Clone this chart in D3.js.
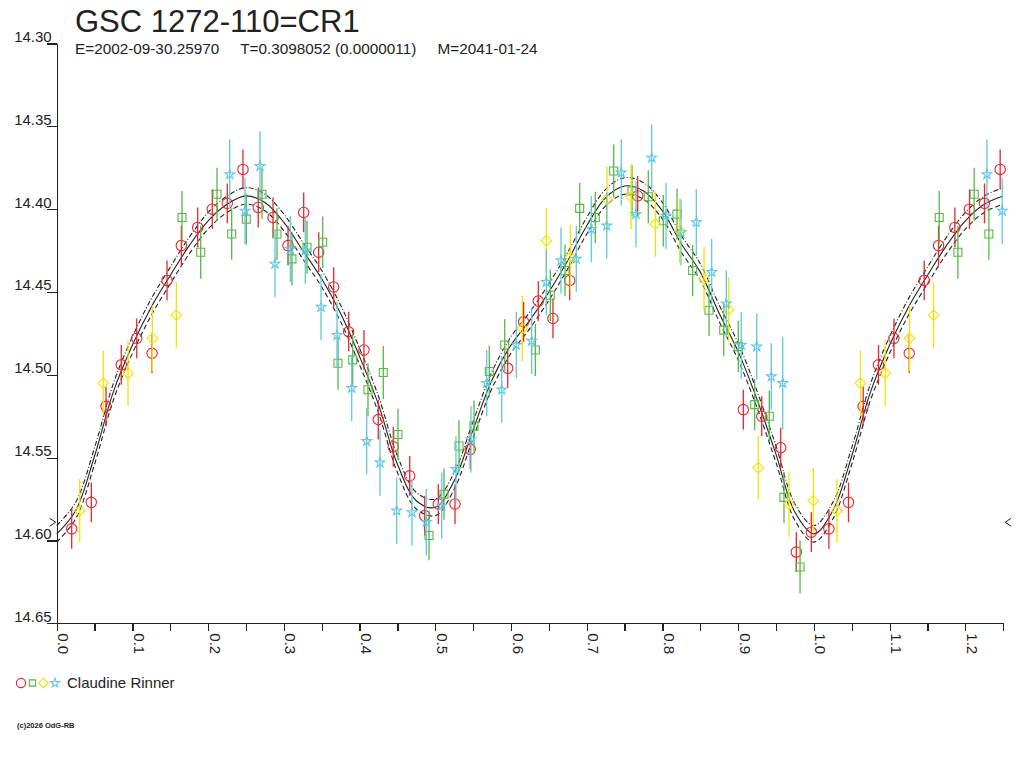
<!DOCTYPE html>
<html>
<head>
<meta charset="utf-8">
<script src="https://cdn.jsdelivr.net/npm/d3@7"></script>
<style>
  body { margin: 0; background: #fff; }
  svg text { font-family: "Liberation Sans", Arial, sans-serif; fill: #222; }
</style>
</head>
<body>
<div class="forSvg"></div>
<script>
// -TEXTS-
const titleText = "GSC 1272-110=CR1";
const subtitleText = "E=2002-09-30.25970     T=0.3098052 (0.0000011)     M=2041-01-24";
const observerName = "Claudine Rinner";
const footerText = "(c)2026 OdG-RB";

// -AXIS VALUES-
const yTicks = [14.30, 14.35, 14.40, 14.45, 14.50, 14.55, 14.60, 14.65];
const xTicks = [0, 0.05, 0.1, 0.15, 0.2, 0.25, 0.3, 0.35, 0.4, 0.45, 0.5, 0.55, 0.6,
                0.65, 0.7, 0.75, 0.8, 0.85, 0.9, 0.95, 1.0, 1.05, 1.1, 1.15, 1.2, 1.25];
const xLabels = [0, 0.1, 0.2, 0.3, 0.4, 0.5, 0.6, 0.7, 0.8, 0.9, 1.0, 1.1, 1.2];

// -OBSERVATIONS- [phase, magnitude, error]
const redPoints = [
  [0.0198, 14.593, 0.012], [0.0457, 14.577, 0.012], [0.0651, 14.519, 0.012], [0.0853, 14.494, 0.012],
  [0.1057, 14.478, 0.012], [0.1259, 14.487, 0.012], [0.1457, 14.443, 0.012], [0.1646, 14.422, 0.012],
  [0.1862, 14.411, 0.012], [0.2055, 14.400, 0.012], [0.2253, 14.3965, 0.012], [0.2460, 14.376, 0.012],
  [0.2662, 14.399, 0.012], [0.2857, 14.405, 0.012], [0.3055, 14.422, 0.012], [0.3262, 14.402, 0.012],
  [0.3460, 14.426, 0.012], [0.3658, 14.447, 0.012], [0.3856, 14.474, 0.012], [0.4058, 14.485, 0.012],
  [0.4247, 14.527, 0.012], [0.4445, 14.5435, 0.012], [0.4662, 14.561, 0.012], [0.4860, 14.585, 0.012],
  [0.5040, 14.578, 0.012], [0.5260, 14.578, 0.012], [0.5462, 14.545, 0.012], [0.5956, 14.496, 0.012],
  [0.6167, 14.468, 0.012], [0.6360, 14.4555, 0.012], [0.6554, 14.466, 0.012], [0.6775, 14.443, 0.012],
  [0.7673, 14.392, 0.012], [0.9068, 14.521, 0.012], [0.9311, 14.525, 0.012], [0.9562, 14.544, 0.012],
  [0.9768, 14.607, 0.012], [0.9966, 14.595, 0.012]
];
const greenPoints = [
  [0.1655, 14.405, 0.016], [0.1902, 14.426, 0.016], [0.2117, 14.391, 0.016], [0.2311, 14.415, 0.0155],
  [0.2504, 14.406, 0.0155], [0.2711, 14.391, 0.015], [0.2909, 14.415, 0.0155], [0.3107, 14.430, 0.016],
  [0.3306, 14.423, 0.016], [0.3513, 14.420, 0.0155], [0.3715, 14.493, 0.016], [0.3909, 14.491, 0.016],
  [0.4111, 14.509, 0.016], [0.4313, 14.4986, 0.016], [0.4507, 14.536, 0.0155], [0.4917, 14.597, 0.015],
  [0.5115, 14.572, 0.0155], [0.5313, 14.543, 0.0155], [0.5511, 14.531, 0.0155], [0.5713, 14.498, 0.0155],
  [0.5917, 14.482, 0.0155], [0.6321, 14.485, 0.0157], [0.6519, 14.452, 0.0155], [0.6713, 14.437, 0.0155],
  [0.6907, 14.3995, 0.0155], [0.7113, 14.405, 0.0155], [0.7356, 14.377, 0.016], [0.7598, 14.389, 0.0155],
  [0.7813, 14.3925, 0.016], [0.8011, 14.407, 0.0155], [0.8192, 14.403, 0.0155], [0.8399, 14.437, 0.0155],
  [0.8615, 14.461, 0.0155], [0.8809, 14.473, 0.016], [0.9002, 14.483, 0.0155], [0.9218, 14.518, 0.0155],
  [0.9411, 14.525, 0.0155], [0.9605, 14.574, 0.0155], [0.9817, 14.616, 0.016]
];
const yellowPoints = [
  [0.0304, 14.582, 0.019], [0.0615, 14.505, 0.0196], [0.0942, 14.499, 0.0197], [0.1263, 14.478, 0.020],
  [0.1580, 14.464, 0.0197], [0.6149, 14.472, 0.0196], [0.6466, 14.419, 0.0198], [0.6783, 14.429, 0.0196],
  [0.7268, 14.394, 0.0196], [0.7585, 14.3925, 0.0196], [0.7906, 14.409, 0.0196], [0.8228, 14.413, 0.0195],
  [0.8549, 14.442, 0.0195], [0.8875, 14.4605, 0.0195], [0.9266, 14.556, 0.0193], [0.9671, 14.578, 0.0197],
  [0.9992, 14.576, 0.0197]
];
const cyanPoints = [
  [0.2285, 14.379, 0.021], [0.2487, 14.401, 0.020], [0.2685, 14.374, 0.021], [0.2883, 14.433, 0.020],
  [0.3085, 14.424, 0.020], [0.3283, 14.425, 0.020], [0.3491, 14.459, 0.020], [0.3702, 14.476, 0.020],
  [0.3896, 14.508, 0.020], [0.4094, 14.540, 0.020], [0.4270, 14.553, 0.020], [0.4490, 14.582, 0.020],
  [0.4692, 14.583, 0.020], [0.4881, 14.589, 0.020], [0.5085, 14.579, 0.020], [0.5273, 14.557, 0.020],
  [0.5471, 14.539, 0.020], [0.5679, 14.505, 0.020], [0.5877, 14.509, 0.020], [0.6070, 14.482, 0.020],
  [0.6273, 14.4795, 0.020], [0.6466, 14.444, 0.020], [0.6660, 14.431, 0.020], [0.6862, 14.430, 0.020],
  [0.7060, 14.412, 0.020], [0.7264, 14.410, 0.020], [0.7456, 14.378, 0.020], [0.7651, 14.403, 0.020],
  [0.7858, 14.369, 0.020], [0.8047, 14.404, 0.020], [0.8245, 14.414, 0.020], [0.8447, 14.408, 0.020],
  [0.8650, 14.438, 0.020], [0.8843, 14.457, 0.020], [0.9041, 14.482, 0.020], [0.9245, 14.483, 0.020],
  [0.9437, 14.501, 0.020], [0.9588, 14.505, 0.028]
];

// -MODEL CURVE- [phase, magnitude]
const modelCurve = [
  [0.000, 14.596], [0.025, 14.582], [0.050, 14.549], [0.075, 14.510], [0.100, 14.482],
  [0.125, 14.459], [0.150, 14.440], [0.175, 14.422], [0.200, 14.407], [0.225, 14.397],
  [0.250, 14.392], [0.275, 14.396], [0.300, 14.408], [0.325, 14.425], [0.350, 14.442],
  [0.375, 14.463], [0.400, 14.489], [0.425, 14.518], [0.450, 14.554], [0.475, 14.576],
  [0.500, 14.580], [0.525, 14.564], [0.550, 14.533], [0.575, 14.503], [0.600, 14.482],
  [0.625, 14.467], [0.650, 14.450], [0.675, 14.431], [0.700, 14.410], [0.725, 14.393],
  [0.750, 14.386], [0.775, 14.389], [0.800, 14.401], [0.825, 14.421], [0.850, 14.438],
  [0.875, 14.463], [0.900, 14.486], [0.925, 14.515], [0.950, 14.548], [0.975, 14.583],
  [1.000, 14.596]
];
const modelBand = 0.005;      // half width of the dashed envelope (mag)
const minMarkerMag = 14.589;  // level of the > < marks

// -LAYOUT-
const svg_w = 1024;
const svg_h = 768;
const phaseMax = 1.25;

const red = "#e8262c";
const green = "#55b747";
const yellow = "#f2e400";
const cyan = "#62c8dc";
const ink = "#222";

const xScale = d3.scaleLinear().domain([0, phaseMax]).range([56.7, 1003.2]);
const yScale = d3.scaleLinear().domain([14.30, 14.65]).range([43.5, 623.3]);

const svg = d3.select(".forSvg")
  .append("svg")
  .attr("width", svg_w)
  .attr("height", svg_h);

// fold phases: repeat the start of the cycle after phase 1
const unfold = pts => pts.concat(pts.filter(p => p[0] + 1 <= phaseMax).map(p => [p[0] + 1].concat(p.slice(1))));

// -TITLES-
svg.append("text")
  .attr("x", 75).attr("y", 32)
  .attr("font-size", 31)
  .text(titleText);

svg.append("text")
  .attr("x", 75).attr("y", 54)
  .attr("font-size", 15.3)
  .style("white-space", "pre")
  .text(subtitleText);

// -MODEL LINES-
const modelPts = modelCurve.concat(modelCurve.filter(p => p[0] > 0 && p[0] + 1 <= phaseMax).map(p => [p[0] + 1, p[1]]));
const makeLine = off => d3.line()
  .x(d => xScale(d[0]))
  .y(d => yScale(d[1] + off))
  .curve(d3.curveCatmullRom);

const modelLines = [
  { off: -modelBand, dash: "5,2,1,2" },
  { off: 0, dash: null },
  { off: modelBand, dash: "5,3" }
];
svg.append("g").selectAll("path")
  .data(modelLines)
  .enter()
  .append("path")
  .attr("d", m => makeLine(m.off)(modelPts))
  .attr("fill", "none")
  .attr("stroke", ink)
  .attr("stroke-width", 1.1)
  .attr("stroke-dasharray", m => m.dash);

// -DATA SERIES-
const series = [
  { pts: redPoints, color: red, type: d3.symbolCircle, size: 85 },
  { pts: greenPoints, color: green, type: d3.symbolSquare, size: 64 },
  { pts: yellowPoints, color: yellow, type: d3.symbolDiamond2, size: 72 },
  { pts: cyanPoints, color: cyan, type: d3.symbolStar, size: 30 }
];

series.forEach(s => {
  const g = svg.append("g");
  const pts = unfold(s.pts);
  // error bars
  g.selectAll("line")
    .data(pts)
    .enter()
    .append("line")
    .attr("x1", d => xScale(d[0]))
    .attr("x2", d => xScale(d[0]))
    .attr("y1", d => yScale(d[1] - d[2]))
    .attr("y2", d => yScale(d[1] + d[2]))
    .attr("stroke", s.color)
    .attr("stroke-width", 1.3);
  // markers
  g.selectAll("path")
    .data(pts)
    .enter()
    .append("path")
    .attr("d", d3.symbol().type(s.type).size(s.size))
    .attr("transform", d => "translate(" + xScale(d[0]) + "," + yScale(d[1]) + ")")
    .attr("fill", "none")
    .attr("stroke", s.color)
    .attr("stroke-width", 1.1);
});

// -AXES-
const xAxis = d3.axisBottom(xScale)
  .tickValues(xTicks)
  .tickSize(8)
  .tickSizeOuter(0)
  .tickFormat(d => xLabels.some(v => Math.abs(v - d) < 1e-9) ? d3.format(".1f")(d) : "");

const gx = svg.append("g")
  .attr("transform", "translate(0," + yScale(14.65) + ")")
  .call(xAxis);
gx.selectAll("text")
  .attr("y", null).attr("dy", null)
  .attr("transform", "translate(1,10) rotate(90)")
  .attr("text-anchor", "start")
  .attr("font-size", 15)
  .attr("font-family", null)
  .attr("fill", ink);

const yAxis = d3.axisLeft(yScale)
  .tickValues(yTicks)
  .tickSize(10)
  .tickSizeOuter(0)
  .tickFormat(d3.format(".2f"));

const gy = svg.append("g")
  .attr("transform", "translate(" + xScale(0) + ",0)")
  .call(yAxis);
gy.selectAll("text")
  .attr("x", -5).attr("y", -2).attr("dy", null)
  .attr("text-anchor", "end")
  .attr("font-size", 15)
  .attr("font-family", null)
  .attr("fill", ink);

svg.selectAll(".domain, .tick line")
  .attr("stroke", ink)
  .attr("stroke-width", 1.2)
  .attr("shape-rendering", "crispEdges");

// -MIN MARKERS-
const my = yScale(minMarkerMag);
svg.append("path")
  .attr("d", "M" + (xScale(0) - 7) + "," + (my - 4) + "L" + (xScale(0) - 1) + "," + my + "L" + (xScale(0) - 7) + "," + (my + 4))
  .attr("fill", "none").attr("stroke", ink);
svg.append("path")
  .attr("d", "M" + (xScale(phaseMax) + 8) + "," + (my - 4) + "L" + (xScale(phaseMax) + 2) + "," + my + "L" + (xScale(phaseMax) + 8) + "," + (my + 4))
  .attr("fill", "none").attr("stroke", ink);

// -LEGEND-
const legend = svg.append("g").attr("transform", "translate(0,683)");
const legendMarks = [
  { color: red, type: d3.symbolCircle, size: 66, x: 21 },
  { color: green, type: d3.symbolSquare, size: 40, x: 32.5 },
  { color: yellow, type: d3.symbolDiamond2, size: 62, x: 43.5 },
  { color: cyan, type: d3.symbolStar, size: 26, x: 55 }
];
legend.selectAll("path")
  .data(legendMarks)
  .enter()
  .append("path")
  .attr("d", m => d3.symbol().type(m.type).size(m.size)())
  .attr("transform", m => "translate(" + m.x + ",0)")
  .attr("fill", "none")
  .attr("stroke", m => m.color)
  .attr("stroke-width", 1.1);
legend.append("text")
  .attr("x", 67).attr("y", 5)
  .attr("font-size", 15)
  .text(observerName);

// -FOOTER-
svg.append("text")
  .attr("x", 17).attr("y", 728)
  .attr("font-size", 7.5)
  .attr("font-weight", "bold")
  .text(footerText);
</script>
</body>
</html>
